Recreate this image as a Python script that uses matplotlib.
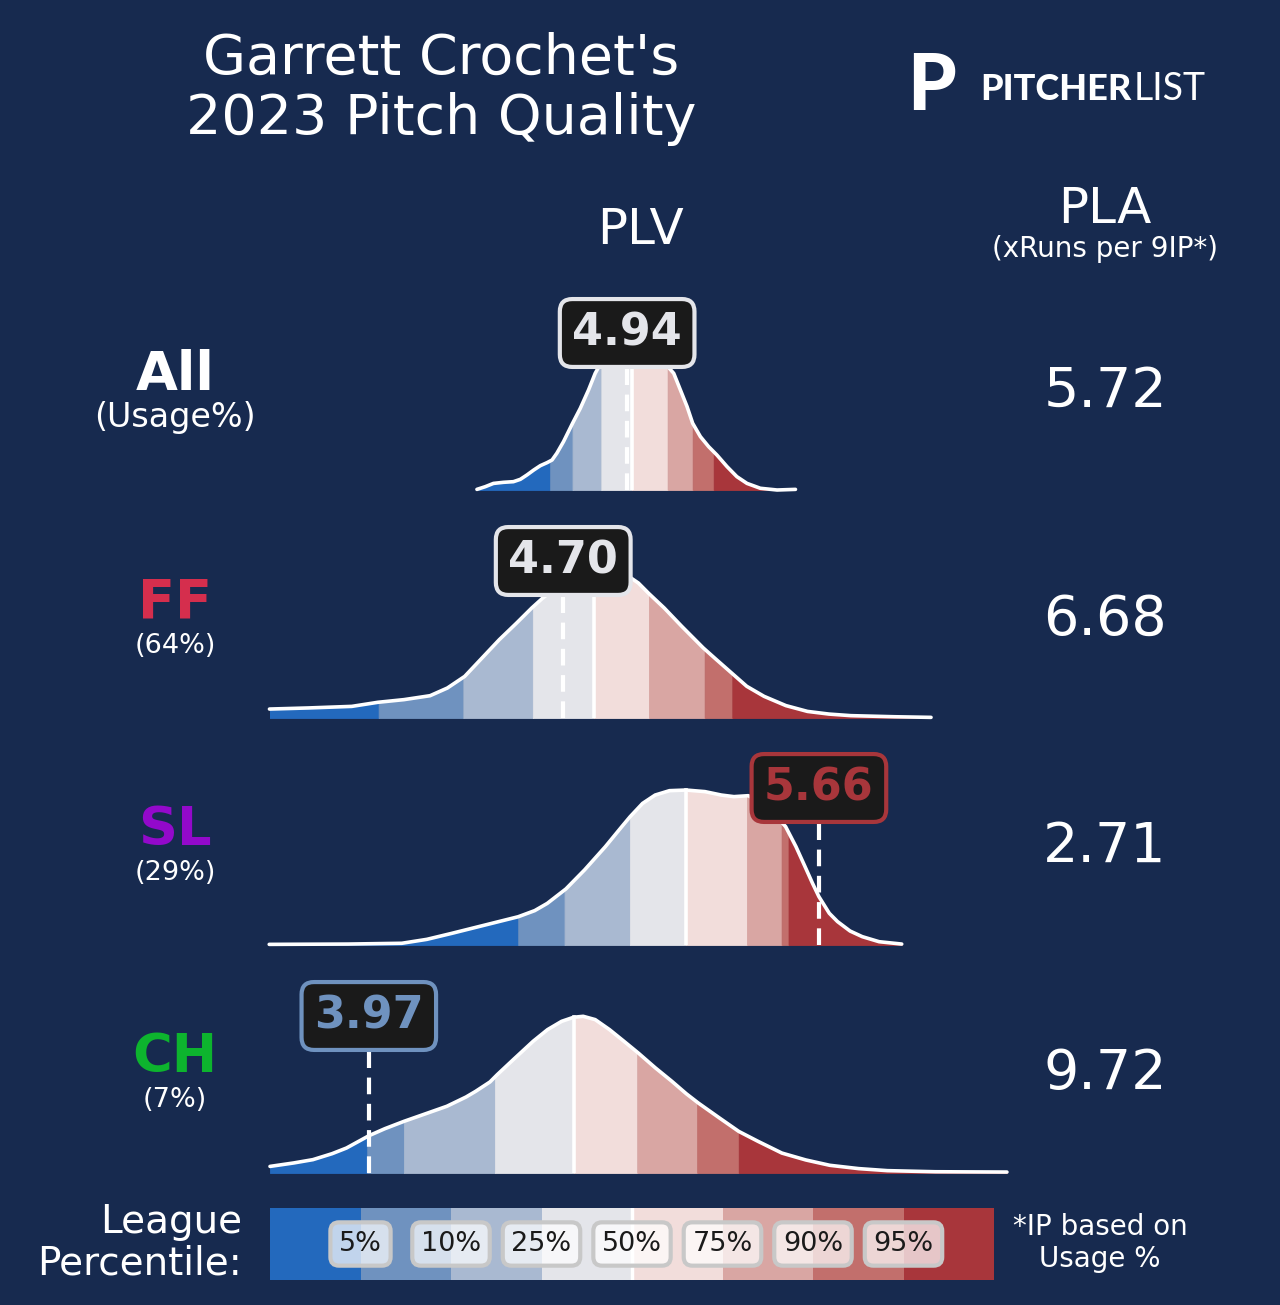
import numpy as np
import matplotlib.pyplot as plt

W, H = 1280, 1305
BG = '#172a4f'

# rows
pitches = ['All', 'FF', 'SL', 'CH']
usage = ['(Usage%)', '(64%)', '(29%)', '(7%)']
pitch_colors = ['white', '#d52e4d', '#9309cb', '#0db42e']
plv = [4.94, 4.70, 5.66, 3.97]
pla = ['5.72', '6.68', '2.71', '9.72']

# percentile cuts (5, 10, 25, 50, 75, 90, 95) in PLV for each row
cuts_all = [4.651, 4.735, 4.843, 4.958, 5.092, 5.186, 5.265]
cuts_ff = [4.007, 4.325, 4.586, 4.815, 5.022, 5.231, 5.335]
cuts_sl = [4.531, 4.705, 4.951, 5.161, 5.390, 5.520, 5.546]
cuts_ch = [3.964, 4.102, 4.444, 4.740, 4.978, 5.203, 5.359]

# density curves (x = PLV, y = density relative to label level)
x_all = [4.376, 4.407, 4.438, 4.476, 4.513, 4.539, 4.564, 4.589, 4.614, 4.639, 4.658,
         4.676, 4.701, 4.735, 4.764, 4.795, 4.820, 4.858, 4.903, 4.952, 5.001, 5.049,
         5.115, 5.140, 5.165, 5.186, 5.215, 5.246, 5.277, 5.315, 5.352, 5.390, 5.440,
         5.503, 5.572]
y_all = [0.004, 0.021, 0.042, 0.049, 0.053, 0.068, 0.096, 0.127, 0.155, 0.174, 0.191,
         0.234, 0.308, 0.425, 0.520, 0.637, 0.743, 0.860, 0.950, 0.990, 0.960, 0.870,
         0.743, 0.637, 0.531, 0.425, 0.340, 0.276, 0.223, 0.149, 0.085, 0.042, 0.011,
         0.0, 0.004]

x_ff = [3.597, 3.743, 3.906, 4.004, 4.102, 4.200, 4.265, 4.330, 4.395, 4.460, 4.525,
        4.582, 4.623, 4.700, 4.780, 4.860, 4.930, 4.982, 5.022, 5.079, 5.145, 5.226,
        5.275, 5.332, 5.389, 5.454, 5.536, 5.617, 5.698, 5.780, 5.943, 6.081]
y_ff = [0.057, 0.064, 0.074, 0.100, 0.117, 0.142, 0.191, 0.265, 0.382, 0.499, 0.605,
        0.701, 0.764, 0.860, 0.930, 0.950, 0.920, 0.860, 0.792, 0.701, 0.584, 0.446,
        0.372, 0.287, 0.202, 0.138, 0.079, 0.042, 0.025, 0.015, 0.008, 0.004]

x_sl = [3.596, 3.892, 4.094, 4.188, 4.281, 4.406, 4.531, 4.593, 4.640, 4.710, 4.780,
        4.858, 4.920, 4.951, 4.998, 5.045, 5.099, 5.161, 5.232, 5.294, 5.341, 5.395,
        5.450, 5.500, 5.535, 5.574, 5.605, 5.636, 5.660, 5.699, 5.730, 5.777, 5.823,
        5.886, 5.971]
y_sl = [0.004, 0.006, 0.011, 0.036, 0.074, 0.127, 0.180, 0.219, 0.265, 0.357, 0.478,
        0.626, 0.754, 0.817, 0.902, 0.955, 0.983, 0.987, 0.977, 0.955, 0.945, 0.951,
        0.900, 0.820, 0.754, 0.626, 0.510, 0.393, 0.308, 0.202, 0.149, 0.089, 0.053,
        0.021, 0.006]

x_ch = [3.599, 3.688, 3.760, 3.832, 3.886, 3.971, 4.030, 4.102, 4.191, 4.263, 4.335,
        4.371, 4.425, 4.452, 4.515, 4.587, 4.641, 4.694, 4.739, 4.775, 4.820, 4.874,
        4.928, 4.982, 5.045, 5.108, 5.162, 5.207, 5.287, 5.359, 5.431, 5.521, 5.611,
        5.701, 5.809, 5.917, 6.097, 6.366]
y_ch = [0.042, 0.064, 0.085, 0.123, 0.159, 0.238, 0.282, 0.329, 0.382, 0.425, 0.484,
        0.520, 0.580, 0.626, 0.726, 0.839, 0.913, 0.966, 0.992, 0.998, 0.977, 0.913,
        0.839, 0.764, 0.671, 0.584, 0.505, 0.446, 0.350, 0.265, 0.202, 0.127, 0.083,
        0.049, 0.028, 0.015, 0.008, 0.006]

band_colors = ['#2369bd', '#6f92bf', '#a9b9d1', '#e4e5ea',
               '#f2dddb', '#d9a6a3', '#c26f6c', '#a8363b']
pct_labels = ['5%', '10%', '25%', '50%', '75%', '90%', '95%']

curves = [(x_all, y_all, cuts_all), (x_ff, y_ff, cuts_ff),
          (x_sl, y_sl, cuts_sl), (x_ch, y_ch, cuts_ch)]


def fx(px):
    return px / W


def fy(py):
    return 1 - py / H


plt.rcParams['font.family'] = ['DejaVu Sans']
fig = plt.figure(figsize=(W / 100, H / 100), dpi=100, facecolor=BG)

# title + logo
fig.text(fx(441), fy(89), "Garrett Crochet's\n2023 Pitch Quality", ha='center', va='center',
         fontsize=40, color='white', linespacing=1.15)
fig.text(fx(907), fy(87), 'P', ha='left', va='center', fontsize=56, color='white',
         family='Lato', weight='black')
t1 = fig.text(fx(980), fy(89), 'PITCHER', ha='left', va='center', fontsize=26,
              color='white', family='Lato', weight='black')
fig.canvas.draw()
bb = t1.get_window_extent()
fig.text(bb.x1 / W + 0.002, fy(89), 'LIST', ha='left', va='center', fontsize=27,
         color='white', family='Lato', weight='normal')

# headers
fig.text(fx(641), fy(230), 'PLV', ha='center', va='center', fontsize=36, color='white')
fig.text(fx(1105), fy(209), 'PLA', ha='center', va='center', fontsize=36, color='white')
fig.text(fx(1105), fy(249), '(xRuns per 9IP*)', ha='center', va='center', fontsize=20,
         color='white')

baselines = [490, 718, 945, 1173]
label_y = [375, 603, 830, 1057]
for i in range(4):
    xs, ys, cuts = np.array(curves[i][0]), np.array(curves[i][1]), curves[i][2]
    ax = fig.add_axes([fx(270), fy(baselines[i]), fx(1008) - fx(270), 200 / H])
    ax.set_xlim(3.599, 6.370)
    ax.set_ylim(0, 200 / 157)
    ax.axis('off')

    edges = [xs[0]] + cuts + [xs[-1]]
    for k in range(8):
        a, b = edges[k], edges[k + 1]
        inner = xs[(xs > a) & (xs < b)]
        bx = np.concatenate([[a], inner, [b]])
        by = np.interp(bx, xs, ys)
        ax.fill_between(bx, 0, by, facecolor=band_colors[k], edgecolor=band_colors[k], lw=0.6)

    med = cuts[3]
    ax.plot([med, med], [0, np.interp(med, xs, ys)], color='white', lw=2.6)
    ax.plot(xs, ys, color='white', lw=2.6, clip_on=False, solid_capstyle='round',
            solid_joinstyle='round')

    v = plv[i]
    c = band_colors[int(np.searchsorted(cuts, v))]
    ax.plot([v, v], [0, 1.0], color='white', lw=3, ls=(0, (4, 2.3)), zorder=4)
    ax.text(v, 1.0, f'{v:.2f}', ha='center', va='center', fontsize=32, weight='bold',
            color=c, zorder=5,
            bbox=dict(boxstyle='round,pad=0.28', fc='#1a1a1a', ec=c, lw=3))

    fig.text(fx(175), fy(label_y[i]), pitches[i], ha='center', va='center',
             fontsize=39, weight='bold', color=pitch_colors[i])
    fig.text(fx(175), fy(label_y[i] + 43), usage[i], ha='center', va='center',
             fontsize=24 if i == 0 else 19.5, color='white')
    fig.text(fx(1105), fy(label_y[i] + 17), pla[i], ha='center', va='center',
             fontsize=40, color='white')

# legend bar
lax = fig.add_axes([fx(270), fy(1280), fx(994) - fx(270), 72 / H])
lax.set_xlim(0, 8)
lax.set_ylim(0, 1)
lax.axis('off')
lax.bar(np.arange(8) + 0.5, 1, width=1, color=band_colors, lw=0)
lax.plot([4, 4], [0, 1], color='white', lw=2.5)
for j, lab in enumerate(pct_labels):
    lax.text(j + 1, 0.5, lab, ha='center', va='center', fontsize=19.5, color='#1a1a1a',
             bbox=dict(boxstyle='round,pad=0.32', fc=(1, 1, 1, 0.72), ec='#c8c8c8', lw=3))

fig.text(fx(242), fy(1243), 'League\nPercentile:', ha='right', va='center', fontsize=28,
         color='white', multialignment='right', linespacing=1.12)
fig.text(fx(1100), fy(1243), '*IP based on\nUsage %', ha='center', va='center',
         fontsize=20, color='white', linespacing=1.2)

fig.savefig('out.png', dpi=100, facecolor=BG)
